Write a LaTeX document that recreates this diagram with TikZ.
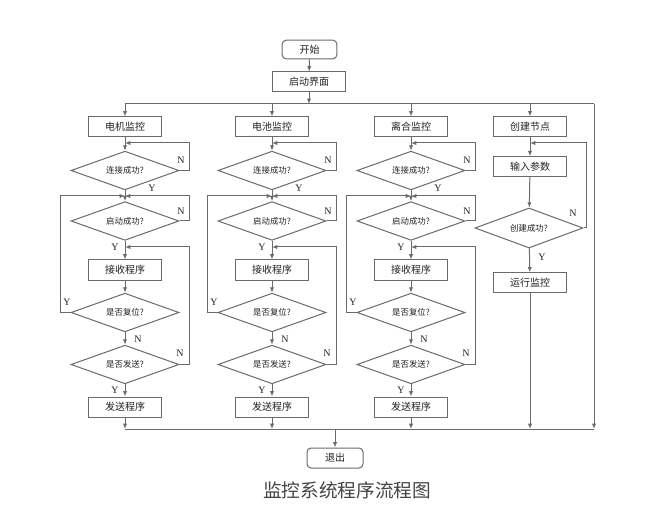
\documentclass[tikz,border=0pt]{standalone}
\usepackage{fontspec}
\setmainfont{Liberation Serif}
\newfontfamily\cjk{Noto Sans CJK SC}
\usetikzlibrary{shapes.geometric,arrows.meta}
\definecolor{linegray}{HTML}{6A6A6A}
\definecolor{textgray}{HTML}{222222}
\definecolor{capgray}{HTML}{444444}
\tikzset{
  box/.style={draw=linegray, line width=0.75pt, minimum width=55pt, minimum height=15pt, inner sep=0pt, text=textgray, font=\cjk\fontsize{7.5}{8}\selectfont},
  rbox/.style={box, rounded corners=3pt},
  dia/.style={draw=linegray, line width=0.75pt, diamond, shape aspect=3, minimum width=81pt, minimum height=29pt, inner sep=0pt, text=textgray, font=\cjk\fontsize{6.3}{7}\selectfont},
  lbl/.style={text=textgray, font=\fontsize{7.5}{8}\selectfont, inner sep=0pt},
  conn/.style={draw=linegray, line width=0.75pt},
  arr/.style={conn, -{Latex[length=4pt,width=3.2pt]}}
}
\begin{document}
\begin{tikzpicture}[x=0.75pt,y=-0.75pt]
\useasboundingbox (0,0) rectangle (650,524);
\fill[white] (0,0) rectangle (650,524);
% top
\node[rbox, minimum width=41pt, minimum height=14pt] (start) at (309.5,49.5) {开始};
\node[box] (ui) at (309,82) {启动界面};
\coordinate (tm) at (309,104);
\coordinate (tl) at (125,104);
\coordinate (tr) at (594,104);
\coordinate (bl) at (125,429);
\coordinate (br) at (594,429);
\coordinate (bm) at (335,429);
\node[rbox, minimum width=42pt] (quit) at (335,458) {退出};
\draw[arr] (start) -- (ui);
\draw[arr] (ui) -- (tm);
\draw[conn] (tl) -- (tr);
\draw[arr] (tr) -- (br);
\draw[conn] (bl) -- (br);
\draw[arr] (bm) -- (quit);
% three monitoring columns
\foreach \c/\i/\t in {125/1/电机监控, 272/2/电池监控, 411/3/离合监控}{
  \node[box] (top\i) at (\c,127) {\t};
  \node[dia] (da\i) at (\c,170.5) {连接成功?};
  \node[dia] (db\i) at (\c,221) {启动成功?};
  \node[box] (rx\i) at (\c,270) {接收程序};
  \node[dia] (dc\i) at (\c,312.5) {是否复位?};
  \node[dia] (dd\i) at (\c,364.5) {是否发送?};
  \node[box] (tx\i) at (\c,407) {发送程序};
  \coordinate (t\i) at (\c,104);
  \coordinate (ja\i) at (\c,143);
  \coordinate (jb\i) at (\c,196);
  \coordinate (jc\i) at (\c,247);
  \coordinate (b\i) at (\c,429);
  \draw[arr] (t\i) -- (top\i);
  \draw[arr] (top\i) -- (da\i);
  \draw[arr] (da\i.east) -- ++(10,0) |- (ja\i);
  \draw[arr] (da\i) -- (db\i);
  \draw[arr] (db\i.east) -- ++(10,0) |- (jb\i);
  \draw[arr] (dc\i.west) -- ++(-10,0) |- (jb\i);
  \draw[arr] (db\i) -- (rx\i);
  \draw[arr] (dd\i.east) -- ++(10,0) |- (jc\i);
  \draw[arr] (rx\i) -- (dc\i);
  \draw[arr] (dc\i) -- (dd\i);
  \draw[arr] (dd\i) -- (tx\i);
  \draw[arr] (tx\i) -- (b\i);
  \node[lbl] (na\i) at (\c+56,160) {N};
  \node[lbl] (ya\i) at (\c+27,188) {Y};
  \node[lbl] (nb\i) at (\c+56,211) {N};
  \node[lbl] (yb\i) at (\c-10,247) {Y};
  \node[lbl] (yc\i) at (\c-58,302) {Y};
  \node[lbl] (nc\i) at (\c+13,339) {N};
  \node[lbl] (nd\i) at (\c+55,353) {N};
  \node[lbl] (yd\i) at (\c-10,390) {Y};
}
% node-creation column
\node[box] (mk) at (530,127) {创建节点};
\node[box, minimum height=14.5pt] (par) at (530,166.5) {输入参数};
\node[dia, minimum height=30pt] (ok) at (529,228) {创建成功?};
\node[box, minimum height=14.5pt] (run) at (530,282.5) {运行监控};
\coordinate (t4) at (530,104);
\coordinate (ja4) at (530,143);
\coordinate (b4) at (530,429);
\draw[arr] (t4) -- (mk);
\draw[arr] (mk) -- (par);
\draw[arr] (par) -- (ok);
\draw[arr] (ok.east) -- ++(3,0) |- (ja4);
\draw[arr] (ok) -- (run);
\draw[arr] (run) -- (b4);
\node[lbl] (n4) at (573,213) {N};
\node[lbl] (y4) at (542,257) {Y};
% caption
\node[text=capgray, font=\cjk\fontsize{14}{16}\selectfont, inner sep=0pt] (cap) at (347,490) {监控系统程序流程图};
\end{tikzpicture}
\end{document}
